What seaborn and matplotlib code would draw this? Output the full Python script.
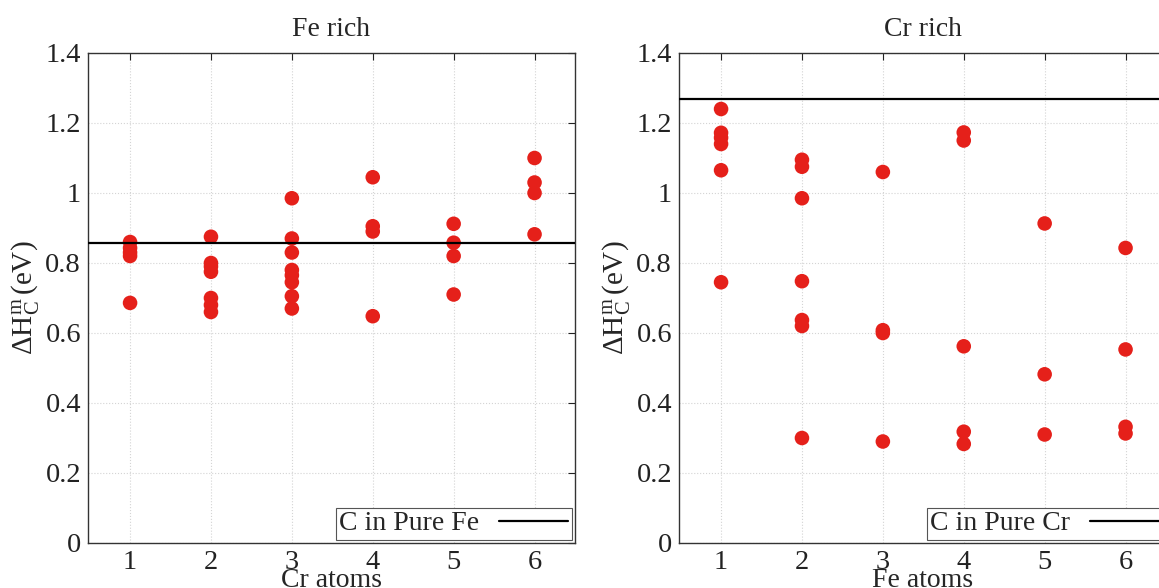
import matplotlib
matplotlib.use("Agg")
import matplotlib.pyplot as plt
import matplotlib.ticker as ticker
import seaborn as sns
import pandas as pd

# Fe rich panel: number of Cr atoms vs migration enthalpy
fe_rich_x = [1, 1, 1, 1, 1,
             2, 2, 2, 2, 2, 2, 2,
             3, 3, 3, 3, 3, 3, 3, 3,
             4, 4, 4, 4,
             5, 5, 5, 5,
             6, 6, 6, 6]
fe_rich_y = [0.86, 0.843, 0.83, 0.82, 0.686,
             0.875, 0.80, 0.79, 0.775, 0.70, 0.68, 0.66,
             0.985, 0.87, 0.83, 0.78, 0.765, 0.745, 0.705, 0.67,
             1.045, 0.905, 0.89, 0.648,
             0.912, 0.858, 0.82, 0.71,
             1.10, 1.03, 1.0, 0.882]
pure_fe = 0.858

# Cr rich panel: number of Fe atoms vs migration enthalpy
cr_rich_x = [1, 1, 1, 1, 1, 1,
             2, 2, 2, 2, 2, 2, 2,
             3, 3, 3, 3,
             4, 4, 4, 4, 4,
             5, 5, 5,
             6, 6, 6, 6]
cr_rich_y = [1.24, 1.172, 1.158, 1.14, 1.065, 0.745,
             1.095, 1.075, 0.985, 0.748, 0.637, 0.62, 0.30,
             1.06, 0.608, 0.60, 0.29,
             1.173, 1.15, 0.562, 0.318, 0.283,
             0.913, 0.482, 0.31,
             0.843, 0.553, 0.332, 0.313]
pure_cr = 1.27

yticks = [0, 0.2, 0.4, 0.6, 0.8, 1.0, 1.2, 1.4]
xticks = [1, 2, 3, 4, 5, 6]

sns.set_style("white")
plt.rcParams['font.family'] = ['Liberation Serif', 'DejaVu Serif']
plt.rcParams['mathtext.fontset'] = 'custom'
plt.rcParams['mathtext.rm'] = 'Liberation Serif'
plt.rcParams['mathtext.it'] = 'Liberation Serif'

fig = plt.figure(figsize=(11.59, 5.88), dpi=100)
W = 487 / 1159
ax1 = fig.add_axes([88 / 1159, 1 - 543 / 588, W, 490 / 588])
ax2 = fig.add_axes([679 / 1159, 1 - 543 / 588, W, 490 / 588])

panels = [
    (ax1, fe_rich_x, fe_rich_y, pure_fe, 'C in Pure Fe', 'Fe rich', 'Cr atoms'),
    (ax2, cr_rich_x, cr_rich_y, pure_cr, 'C in Pure Cr', 'Cr rich', 'Fe atoms'),
]

for ax, xs, ys, ref, lab, title, xlab in panels:
    df = pd.DataFrame({'n': xs, 'dH': ys})
    sns.scatterplot(data=df, x='n', y='dH', ax=ax, color='#e5201a',
                    s=110, edgecolor='none', zorder=3)
    ax.axhline(ref, color='black', lw=1.6, label=lab, zorder=4)
    ax.set_xlim(0.48, 6.5)
    ax.set_ylim(0, 1.4)
    ax.set_xticks(xticks)
    ax.set_yticks(yticks)
    ax.yaxis.set_major_formatter(ticker.FuncFormatter(lambda v, p: '%g' % round(v, 2)))
    ax.grid(True, color='#d4d4d4', ls=':', lw=0.8)
    ax.tick_params(direction='in', length=5, width=0.8, top=True, right=True,
                   labelsize=20.5, pad=5, colors='#222222')
    for sp in ax.spines.values():
        sp.set_color('#333333')
        sp.set_linewidth(1.0)
    ax.set_title(title, fontsize=20, pad=12)
    ax.set_xlabel(xlab, fontsize=20, labelpad=-5)
    ax.set_ylabel(r'$\Delta\mathrm{H}_{\mathrm{C}}^{\mathrm{m}}\,$(eV)', fontsize=21, labelpad=3)
    leg = ax.legend(loc='lower right', markerfirst=False, fontsize=20,
                    fancybox=False, framealpha=1, edgecolor='#555555',
                    borderpad=0.12, handlelength=2.5, handletextpad=0.7,
                    borderaxespad=0.12)
    leg.get_frame().set_linewidth(0.8)

fig.savefig('out.png', dpi=100)
